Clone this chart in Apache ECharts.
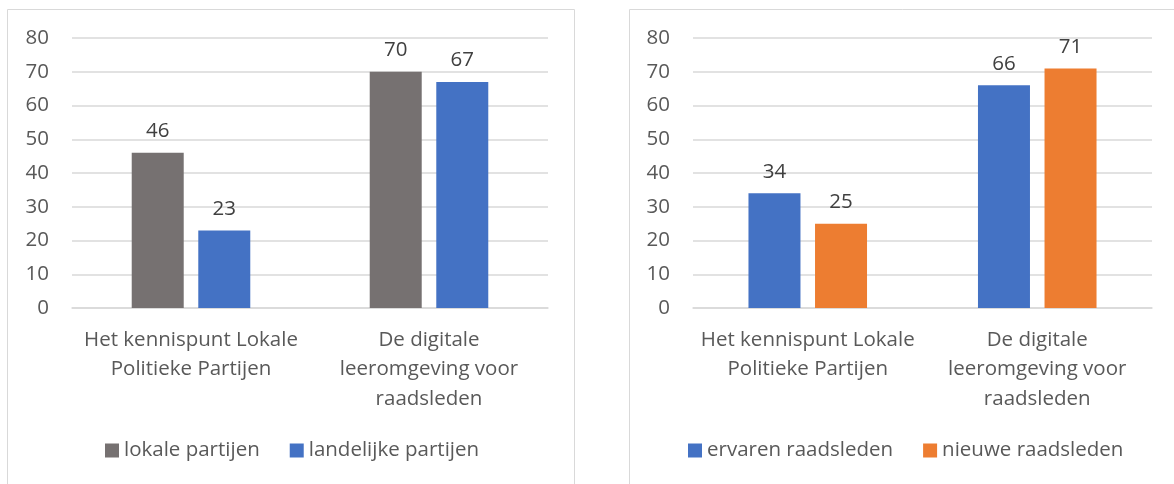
<!DOCTYPE html>
<html><head><meta charset="utf-8">
<script src="https://cdn.jsdelivr.net/npm/echarts@6/dist/echarts.min.js"></script>
<style>html,body{margin:0;padding:0;background:#fff;}#c{width:1174px;height:484px;}</style>
</head><body><div id="c"></div>
<script>
const categories = ["Het kennispunt Lokale\nPolitieke Partijen", "De digitale\nleeromgeving voor\nraadsleden"];
const leftSeriesNames = ["lokale partijen", "landelijke partijen"];
const lokale = [46, 70];
const landelijke = [23, 67];
const rightSeriesNames = ["ervaren raadsleden", "nieuwe raadsleden"];
const ervaren = [34, 66];
const nieuwe = [25, 71];
const yTicks = {min: 0, max: 80, interval: 10};

const FONT = "Open Sans";
const FS = 20.5;
const AX = "#595959", VAL = "#404040", GRID = "#D9D9D9";
const GRAY = "#767171", BLUE = "#4472C4", ORANGE = "#ED7D31";

function yAxis(gi){
  return {type:'value', gridIndex:gi, min:yTicks.min, max:yTicks.max, interval:yTicks.interval,
    axisLine:{show:false}, axisTick:{show:false},
    axisLabel:{color:AX, fontFamily:FONT, fontSize:FS, margin:23},
    splitLine:{lineStyle:{color:GRID, width:1.5}}};
}
function xAxis(gi){
  return {type:'category', gridIndex:gi, data:categories,
    axisLine:{lineStyle:{color:GRID, width:1.5}}, axisTick:{show:false},
    axisLabel:{color:AX, fontFamily:FONT, fontSize:FS, lineHeight:29.5, margin:17, interval:0}};
}
function bar(name, data, color, gi){
  return {type:'bar', name:name, data:data, xAxisIndex:gi, yAxisIndex:gi,
    barWidth:52, barGap:'28%', itemStyle:{color:color},
    label:{show:true, position:'top', distance:11, color:VAL, fontFamily:FONT, fontSize:FS}};
}
const legendCommon = {itemWidth:14, itemHeight:14, itemGap:30, icon:'rect', padding:0,
  textStyle:{color:AX, fontFamily:FONT, fontSize:FS}};

const chart = echarts.init(document.getElementById('c'));
chart.setOption({
  animation:false,
  graphic:[
    {type:'rect', shape:{x:7.5, y:9.5, width:567, height:490}, style:{fill:'none', stroke:GRID, lineWidth:1}},
    {type:'rect', shape:{x:629.5, y:9.5, width:560, height:490}, style:{fill:'none', stroke:GRID, lineWidth:1}}
  ],
  grid:[
    {left:72, width:476, top:38, height:270},
    {left:693, width:459, top:38, height:270}
  ],
  xAxis:[xAxis(0), xAxis(1)],
  yAxis:[yAxis(0), yAxis(1)],
  legend:[
    Object.assign({data:leftSeriesNames, left:105, top:440}, legendCommon),
    Object.assign({data:rightSeriesNames, left:688, top:440}, legendCommon)
  ],
  series:[
    bar(leftSeriesNames[0], lokale, GRAY, 0),
    bar(leftSeriesNames[1], landelijke, BLUE, 0),
    bar(rightSeriesNames[0], ervaren, BLUE, 1),
    bar(rightSeriesNames[1], nieuwe, ORANGE, 1)
  ]
});
</script></body></html>
